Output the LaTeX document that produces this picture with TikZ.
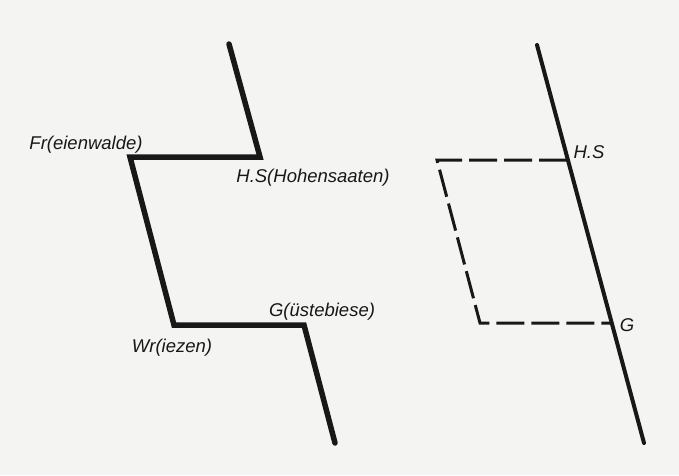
\documentclass[tikz,border=0pt]{standalone}
\usepackage{fontspec}
\setmainfont{Liberation Sans}
\definecolor{paper}{RGB}{244,244,242}
\definecolor{ink}{RGB}{24,24,24}
\begin{document}
\begin{tikzpicture}[x=1pt,y=-1pt,
  lbl/.style={font=\fontsize{18.5}{18.5}\selectfont\itshape, text=ink, inner sep=0pt},
  thickline/.style={draw=ink, line width=5.5pt, line join=miter, line cap=round},
  axisline/.style={draw=ink, line width=4pt, line cap=round},
  dashline/.style={draw=ink, line width=3pt, dash pattern=on 28pt off 7pt, line join=miter}]
\fill[paper] (0,0) rectangle (679,475);
\useasboundingbox (0,0) rectangle (679,475);
% left figure
\coordinate (ltop) at (229,44);
\coordinate (lhs) at (260,157);
\coordinate (lfr) at (130,157);
\coordinate (lwr) at (174,325);
\coordinate (lg) at (304,325);
\coordinate (lbot) at (335,443);
\draw[thickline] (ltop) -- (lhs) -- (lfr) -- (lwr) -- (lg) -- (lbot);
\node[lbl] (tfr) at (86,145) {Fr(eienwalde)};
\node[lbl] (ths) at (313,178) {H.S(Hohensaaten)};
\node[lbl] (tg) at (322,312) {G(üstebiese)};
\node[lbl] (twr) at (172,348) {Wr(iezen)};
% right figure
\coordinate (rtop) at (537,45);
\coordinate (rbot) at (644,443);
\coordinate (rhs) at (567,160);
\coordinate (rtl) at (437,160);
\coordinate (rbl) at (480,323);
\coordinate (rg) at (610,323);
\draw[axisline] (rtop) -- (rbot);
\draw[dashline] (rhs) -- (rtl) -- (rbl) -- (rg);
\node[lbl] (trhs) at (589,152) {H.S};
\node[lbl] (trg) at (627,325) {G};
\end{tikzpicture}
\end{document}
